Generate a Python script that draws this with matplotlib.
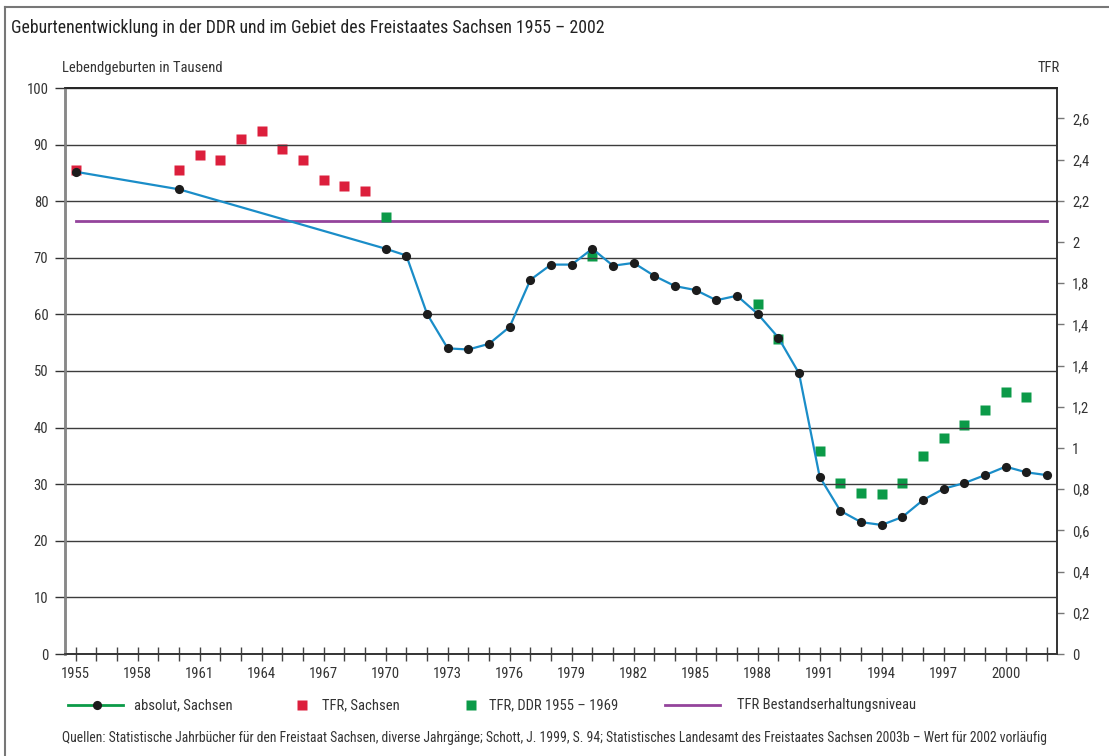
import matplotlib
matplotlib.use("Agg")
import matplotlib.pyplot as plt
from matplotlib import font_manager
from matplotlib.lines import Line2D

# Schmale Schrift suchen (Original ist Helvetica Condensed)
names = {f.name for f in font_manager.fontManager.ttflist}
FONT = 'DejaVu Sans'
for cand in ['Liberation Sans Narrow', 'DejaVu Sans Condensed', 'Roboto Condensed',
             'Open Sans Condensed', 'Liberation Sans']:
    if cand in names:
        FONT = cand
        break
condensed = [f for f in font_manager.fontManager.ttflist
             if f.name == 'DejaVu Sans' and str(f.stretch) in ('condensed', '300')]
plt.rcParams['font.family'] = [FONT, 'DejaVu Sans']
if FONT == 'DejaVu Sans' and condensed:
    plt.rcParams['font.stretch'] = 'condensed'

# Lebendgeburten Sachsen (in Tausend)
years_abs = [1955, 1960, 1970, 1971, 1972, 1973, 1974, 1975, 1976, 1977, 1978,
             1979, 1980, 1981, 1982, 1983, 1984, 1985, 1986, 1987, 1988, 1989,
             1990, 1991, 1992, 1993, 1994, 1995, 1996, 1997, 1998, 1999, 2000,
             2001, 2002]
births_abs = [85.2, 82.1, 71.6, 70.4, 60.1, 54.0, 53.8, 54.8, 57.8, 66.1, 68.8,
              68.8, 71.6, 68.6, 69.1, 66.8, 65.0, 64.3, 62.5, 63.3, 60.1, 55.9,
              49.6, 31.3, 25.3, 23.3, 22.8, 24.2, 27.2, 29.2, 30.2, 31.6, 33.1,
              32.1, 31.6]

# TFR Sachsen
years_tfr_sn = [1955, 1960, 1961, 1962, 1963, 1964, 1965, 1966, 1967, 1968, 1969]
tfr_sn = [2.35, 2.35, 2.42, 2.40, 2.50, 2.54, 2.45, 2.40, 2.30, 2.27, 2.25]

# TFR DDR
years_tfr_ddr = [1970, 1980, 1988, 1989, 1991, 1992, 1993, 1994, 1995, 1996,
                 1997, 1998, 1999, 2000, 2001]
tfr_ddr = [2.12, 1.93, 1.70, 1.53, 0.985, 0.83, 0.78, 0.775, 0.83, 0.96,
           1.05, 1.11, 1.185, 1.27, 1.25]

tfr_level = 2.1
level_years = [1955, 2002]

yticks_left = list(range(0, 101, 10))
yticks_right = [0, 0.2, 0.4, 0.6, 0.8, 1.0, 1.2, 1.4, 1.6, 1.8, 2.0, 2.2, 2.4, 2.6]
yticklabels_right = ['0', '0,2', '0,4', '0,6', '0,8', '1', '1,2', '1,4', '1,4',
                     '1,8', '2', '2,2', '2,4', '2,6']
xtick_labels = list(range(1955, 2001, 3))

legend_labels = ['absolut, Sachsen', 'TFR, Sachsen', 'TFR, DDR 1955 – 1969',
                 'TFR Bestandserhaltungsniveau']

title = 'Geburtenentwicklung in der DDR und im Gebiet des Freistaates Sachsen 1955 – 2002'
source = ('Quellen: Statistische Jahrbücher für den Freistaat Sachsen, diverse Jahrgänge; '
          'Schott, J. 1999, S. 94; Statistisches Landesamt des Freistaates Sachsen 2003b – '
          'Wert für 2002 vorläufig')

W, H = 1109, 756
BLUE = '#1a8dc8'
RED = '#dc1f3c'
GREEN = '#0b9a48'
PURPLE = '#94449c'
TXT = '#333333'

fig = plt.figure(figsize=(W / 100, H / 100), dpi=100)
fig.patch.set_facecolor('white')

def fx(px):
    return px / W

def fy(py):
    return 1 - py / H

ax = fig.add_axes([fx(65), fy(654), fx(1057) - fx(65), fy(88) - fy(654)])
ax2 = ax.twinx()

# TFR auf rechter Achse
ax2.plot(level_years, [tfr_level, tfr_level], color=PURPLE, lw=2.0, zorder=2)
ax2.plot(years_tfr_sn, tfr_sn, 's', color=RED, ms=7.2, mec='none', zorder=3)
ax2.plot(years_tfr_ddr, tfr_ddr, 's', color=GREEN, ms=7.2, mec='none', zorder=3)
ax2.set_ylim(0, (654 - 88) / 206)
ax2.set_yticks(yticks_right)
ax2.set_yticklabels(yticklabels_right)
ax2.tick_params(axis='y', colors='#777777', labelcolor=TXT, labelsize=10.5,
                length=5, width=1, pad=6)

# absolute Geburten auf linker Achse, oben drauf
ax.set_zorder(ax2.get_zorder() + 1)
ax.patch.set_visible(False)
ax.plot(years_abs, births_abs, '-', color=BLUE, lw=1.6, zorder=4)
ax.plot(years_abs, births_abs, 'o', color='#1c1c1c', ms=6.6, mec='none', zorder=5)

ax.set_xlim(1955 - 10.7 / 20.67, 2002 + 10 / 20.67)
ax.set_ylim(0, 100)
ax.set_yticks(yticks_left)
ax.set_xticks(xtick_labels)
ax.set_xticks(range(1955, 2003), minor=True)
ax.tick_params(axis='y', colors='#333333', labelcolor=TXT, labelsize=10.5,
               length=7, width=1, pad=5)
ax.tick_params(axis='x', which='both', colors='#444444', labelcolor=TXT,
               labelsize=10.5, direction='inout', length=10, width=1, pad=4)
ax.grid(axis='y', color='#3c3c3c', lw=1.0)
ax.set_axisbelow(True)

for a in (ax, ax2):
    a.spines['left'].set_color('#888888')
    a.spines['left'].set_linewidth(1.8)
    a.spines['right'].set_color('#333333')
    a.spines['right'].set_linewidth(1.2)
    a.spines['top'].set_color('#222222')
    a.spines['top'].set_linewidth(1.2)
    a.spines['bottom'].set_color('#333333')
    a.spines['bottom'].set_linewidth(1.2)

# Texte
t_title = fig.text(fx(11), fy(28), title, fontsize=14, color='#222222', va='center')
fig.text(fx(62), fy(68), 'Lebendgeburten in Tausend', fontsize=10.5, color=TXT, va='center')
fig.text(fx(1038), fy(68), 'TFR', fontsize=10.5, color=TXT, va='center')
t_src = fig.text(fx(62), fy(738), source, fontsize=10.5, color=TXT, va='center')

# Schriftgroesse an die Breite im Original anpassen, falls die Schrift breiter ist
renderer = fig.canvas.get_renderer()
for t, target in [(t_title, 595), (t_src, 993)]:
    w = t.get_window_extent(renderer).width
    if w > target:
        t.set_fontsize(t.get_fontsize() * target / w)

# Rahmen
fig.add_artist(Line2D([fx(5), fx(5)], [fy(7), 0], transform=fig.transFigure,
                      color='#777777', lw=1.5))
fig.add_artist(Line2D([fx(5), 1], [fy(7), fy(7)], transform=fig.transFigure,
                      color='#777777', lw=1.5))

# Legende
ly = fy(705)
fig.add_artist(Line2D([fx(68), fx(123)], [ly, ly], transform=fig.transFigure,
                      color=GREEN, lw=2.0))
fig.add_artist(Line2D([fx(97)], [ly], transform=fig.transFigure, marker='o',
                      color='#1c1c1c', ms=6.6, mec='none'))
fig.add_artist(Line2D([fx(302)], [ly], transform=fig.transFigure, marker='s',
                      color=RED, ms=7.2, mec='none'))
fig.add_artist(Line2D([fx(471)], [ly], transform=fig.transFigure, marker='s',
                      color=GREEN, ms=7.2, mec='none'))
fig.add_artist(Line2D([fx(665), fx(720)], [ly, ly], transform=fig.transFigure,
                      color=PURPLE, lw=2.0))
for xpos, lab in zip([134, 322, 489, 737], legend_labels):
    fig.text(fx(xpos), ly, lab, fontsize=10.5, color=TXT, va='center')

fig.savefig('out.png', dpi=100)
